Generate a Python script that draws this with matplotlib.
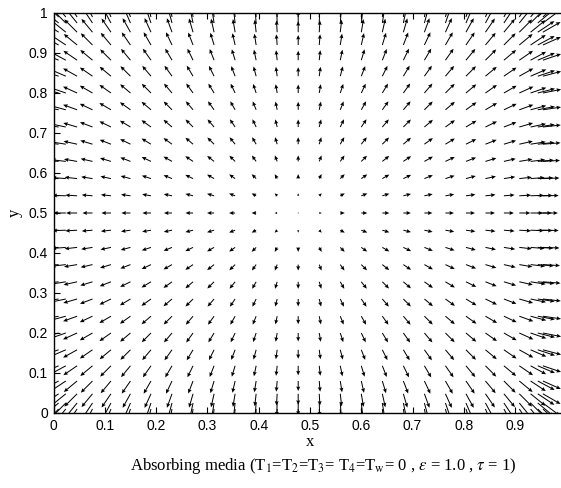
import numpy as np
import matplotlib
matplotlib.use("Agg")
import matplotlib.pyplot as plt

# node positions of the flux field (x columns, y rows)
xs = [0.0, 0.010, 0.024, 0.046, 0.076, 0.112, 0.150, 0.190, 0.231, 0.272, 0.313, 0.354, 0.395, 0.436,
      0.477, 0.518, 0.559, 0.600, 0.641, 0.682, 0.723, 0.764, 0.804, 0.842, 0.878, 0.908, 0.930, 0.944, 0.954]
ys = [0.0, 0.010, 0.025, 0.048, 0.080, 0.118, 0.158, 0.200, 0.242, 0.285, 0.328, 0.371, 0.414, 0.457,
      0.5, 0.543, 0.586, 0.629, 0.672, 0.715, 0.758, 0.800, 0.842, 0.882, 0.920, 0.952, 0.975, 0.990, 1.0]

# quarter of the heat flux field: row = node index across the flux direction (from centre),
# column = node index along the flux direction (from centre)
flux_table = [
    [0, 2.5, 4.5, 6.0, 7.0, 7.5, 8.0, 8.5, 9.0, 9.5, 10.0, 11.0, 12.5, 14.0, 15.0],
    [0, 2.5, 4.5, 6.0, 7.0, 7.6, 8.2, 8.8, 9.4, 10.0, 10.7, 11.8, 13.3, 14.8, 15.8],
    [0, 2.4, 4.4, 5.9, 7.0, 7.7, 8.4, 9.1, 9.8, 10.5, 11.3, 12.5, 14.0, 15.5, 16.5],
    [0, 2.3, 4.2, 5.7, 6.9, 7.7, 8.5, 9.3, 10.1, 10.9, 11.8, 13.1, 14.6, 16.1, 17.1],
    [0, 2.1, 4.0, 5.5, 6.7, 7.6, 8.5, 9.4, 10.3, 11.2, 12.2, 13.5, 15.1, 16.6, 17.6],
    [0, 1.9, 3.7, 5.2, 6.5, 7.5, 8.5, 9.5, 10.5, 11.5, 12.5, 13.8, 15.4, 16.9, 17.9],
    [0, 1.7, 3.4, 4.8, 6.1, 7.2, 8.3, 9.4, 10.5, 11.6, 12.7, 14.0, 15.6, 17.1, 18.1],
    [0, 1.5, 3.0, 4.4, 5.7, 6.8, 8.0, 9.2, 10.3, 11.5, 12.7, 14.1, 15.7, 17.2, 18.2],
    [0, 1.3, 2.6, 3.9, 5.1, 6.3, 7.5, 8.7, 10.0, 11.3, 12.6, 14.0, 15.7, 17.2, 18.2],
    [0, 1.1, 2.2, 3.3, 4.4, 5.6, 6.8, 8.1, 9.4, 10.8, 12.2, 13.7, 15.5, 17.1, 18.1],
    [0, 0.9, 1.8, 2.7, 3.7, 4.8, 6.0, 7.3, 8.7, 10.2, 11.7, 13.3, 15.2, 16.9, 17.9],
    [0, 0.7, 1.4, 2.2, 3.0, 4.0, 5.1, 6.4, 7.8, 9.4, 11.0, 12.8, 14.8, 16.6, 17.6],
    [0, 0.5, 1.1, 1.7, 2.4, 3.2, 4.2, 5.4, 6.8, 8.4, 10.1, 12.0, 14.2, 16.2, 17.2],
    [0, 0.4, 0.8, 1.3, 1.8, 2.5, 3.3, 4.4, 5.7, 7.2, 9.0, 11.1, 13.5, 15.7, 16.8],
    [0, 0.3, 0.6, 1.0, 1.4, 2.0, 2.7, 3.6, 4.8, 6.2, 8.0, 10.2, 12.8, 15.2, 16.4],
]

xtick_vals = [0, 0.1, 0.2, 0.3, 0.4, 0.5, 0.6, 0.7, 0.8, 0.9]
xtick_labels = ["0", "0.1", "0.2", "0.3", "0.4", "0.5", "0.6", "0.7", "0.8", "0.9"]
ytick_vals = [0, 0.1, 0.2, 0.3, 0.4, 0.5, 0.6, 0.7, 0.8, 0.9, 1.0]
ytick_labels = ["0", "0.1", "0.2", "0.3", "0.4", "0.5", "0.6", "0.7", "0.8", "0.9", "1"]

caption = (r"Absorbing media (T$_1$=T$_2$=T$_3$= T$_4$=T$_\mathrm{w}$= 0 , "
           r"$\varepsilon$ = 1.0 , $\tau$ = 1)")

# mirror the quarter table into the full field
T = np.array(flux_table)
ic = len(xs) // 2
jc = len(ys) // 2
kx = np.abs(np.arange(len(xs)) - ic)
ky = np.abs(np.arange(len(ys)) - jc)
sx = np.sign(np.arange(len(xs)) - ic)
sy = np.sign(np.arange(len(ys)) - jc)
U = sx[None, :] * T[ky[:, None], kx[None, :]]
V = sy[:, None] * T[kx[None, :], ky[:, None]]
X, Y = np.meshgrid(xs, ys)

plt.rcParams['mathtext.fontset'] = 'stix'

fig = plt.figure(figsize=(5.61, 4.88), dpi=100)
ax = fig.add_axes([53.5 / 561, 75 / 488, 513 / 561, 400 / 488])

# arrows start at the nodes, lengths in screen pixels
ax.quiver(X, Y, U, V, angles='uv', scale_units='dots', scale=1.0,
          units='dots', width=1.0, headwidth=4.0, headlength=4.5, headaxislength=4.0,
          color='black', pivot='tail')

ax.set_xlim(0, 1)
ax.set_ylim(0, 1)
ax.set_xticks(xtick_vals)
ax.set_xticklabels(xtick_labels)
ax.set_yticks(ytick_vals)
ax.set_yticklabels(ytick_labels)
ax.tick_params(direction='in', top=True, right=True, length=4, width=0.8, pad=4)
for lab in ax.get_xticklabels() + ax.get_yticklabels():
    lab.set_family(['Liberation Sans Narrow', 'Liberation Sans', 'DejaVu Sans'])
    lab.set_fontsize(10)
for sp in ax.spines.values():
    sp.set_linewidth(1.0)

ax.set_xlabel('x', family='Liberation Serif', fontsize=12, labelpad=1)
ax.set_ylabel('y', family='Liberation Serif', fontsize=12, labelpad=4)

fig.text(323 / 561, 1 - 466 / 488, caption, family='Liberation Serif', fontsize=12,
         ha='center', va='center')

fig.savefig('out.png', dpi=100)
